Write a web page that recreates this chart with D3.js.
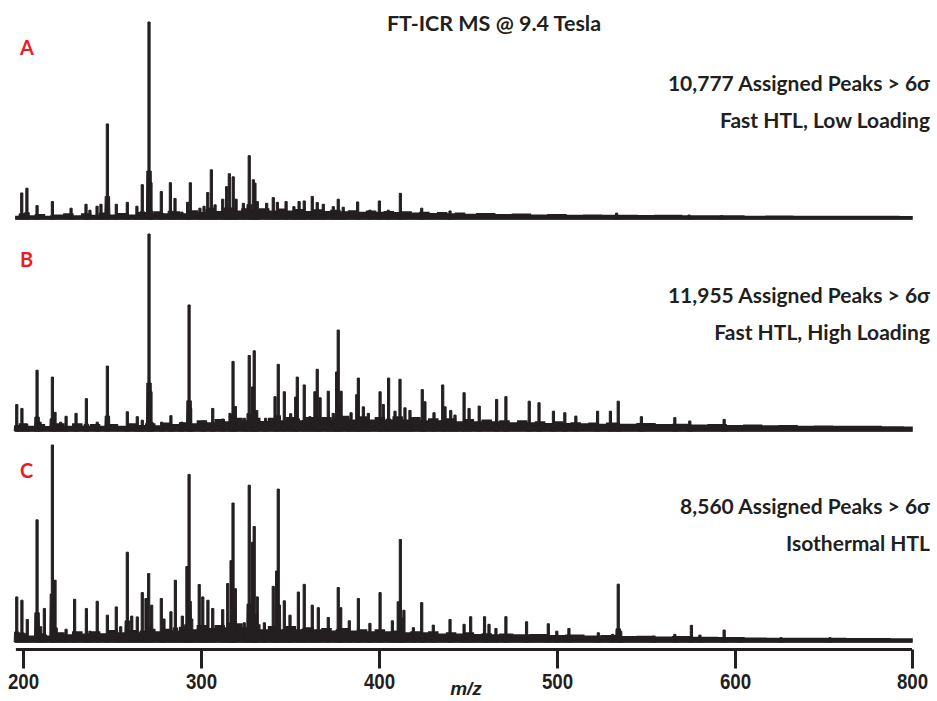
<!DOCTYPE html>
<html>
<head>
<meta charset="utf-8">
<script src="https://cdn.jsdelivr.net/npm/d3@7"></script>
<style>
  body { margin: 0; background: #fff; }
  svg { display: block; }
  .lbl { font-family: Lato, "Open Sans", sans-serif; font-weight: bold; fill: #231f20; }
  .axis_text { font-family: "Liberation Sans", Arial, sans-serif; font-weight: bold; fill: #231f20; }
</style>
</head>
<body>
<div id="chart"></div>
<script>
// axis ticks as printed on the figure
let tick_values = [200, 300, 400, 500, 600, 800];

// [m/z, relative intensity %]
let peaks_a = [
    [199.3, 12.8], [202.2, 15.2], [207.9, 6.3], [216.5, 8.4], [227, 5], [235.4, 7], [237.6, 4],
    [241.6, 6], [243.8, 7], [247.4, 48], [252.4, 7], [258.6, 8], [264, 6], [267, 17], [270.8, 100],
    [271.9, 18], [277.7, 13.5], [282.8, 18], [285.4, 10], [289.3, 3], [292.5, 8], [294, 18],
    [299.4, 5], [301.7, 6], [303.8, 13], [305.8, 24.6], [307.9, 6.7], [312.2, 9.6], [314.4, 16],
    [315.9, 22.6], [318.1, 21], [319.7, 9.6], [323.8, 7.5], [327.1, 31.8], [329.4, 19.5],
    [330.3, 17.8], [331.6, 8.4], [336.9, 7.5], [340.6, 10.4], [342.9, 8], [347.8, 8.4], [352.2, 5.8],
    [355.1, 8.4], [358, 8.7], [362.5, 11], [365.3, 7.9], [368.7, 7], [374.3, 5.8], [377.1, 9.6],
    [379.9, 5.5], [388, 8.2], [394.9, 4], [400.2, 8.7], [405.2, 4], [412, 12.6], [424, 5],
    [439.9, 3.6], [533.5, 2.5], [574.2, 1.5], [592.5, 1.2]
];
let grass_a = [
    [196, 0.8], [200, 1.8], [204, 1], [210, 1.6], [214, 0.8], [220, 1.4], [226, 2], [230, 1],
    [236, 2], [240, 1.2], [246, 2.4], [250, 1.4], [256, 2.2], [262, 1.4], [266, 2.6], [272, 1.8],
    [276, 3], [280, 2], [286, 3], [290, 2], [296, 3.6], [300, 2.6], [306, 4.2], [310, 3.2],
    [316, 5], [320, 3.4], [326, 4.6], [330, 3.8], [336, 4.6], [340, 3.4], [346, 4.4], [350, 3.4],
    [356, 4.2], [360, 3.2], [366, 4], [370, 3.2], [376, 3.8], [380, 3], [386, 3.6], [390, 2.8],
    [396, 3.4], [400, 2.8], [406, 3.2], [410, 2.6], [416, 3], [420, 2.4], [426, 2.8], [430, 2.2],
    [436, 2.6], [440, 2], [446, 2.4], [450, 1.8], [460, 2.1], [470, 1.6], [480, 1.9], [490, 1.4],
    [500, 1.6], [510, 1.3], [520, 1.4], [530, 1.2], [540, 1.3], [550, 1.1], [560, 1.2], [580, 1],
    [600, 1], [620, 0.8], [650, 0.9], [680, 0.7], [700, 0.8], [740, 0.7], [770, 0.7], [800, 0.6]
];

let peaks_b = [
    [196.5, 13], [199.4, 11], [202.1, 3], [207.9, 30.5], [209.6, 4], [216.5, 27], [218, 9],
    [221.2, 4], [224.2, 7], [229.8, 8.5], [235.6, 16], [241.7, 4], [247.4, 32.6], [258.6, 9.3],
    [264.2, 6.8], [267, 5], [270.8, 100], [271.9, 19.5], [277.9, 4], [283.1, 7.3], [289.2, 4],
    [293.3, 63.8], [294.2, 11], [301.3, 4.6], [306.6, 11], [312.2, 5.6], [316.3, 8.5], [318, 35],
    [319.3, 12], [324.3, 6], [327.1, 38], [329, 22], [329.9, 40.4], [331.3, 10], [336.3, 6],
    [341.6, 17], [343.4, 33.5], [346.8, 19.5], [350.4, 8.3], [353.2, 16.8], [354.1, 27], [358, 23],
    [361.2, 6.8], [364, 19.5], [365.3, 31], [366.9, 16.4], [371.5, 19.8], [374.3, 8.5],
    [376.2, 29.6], [377.1, 51], [378.7, 19.8], [382.4, 6.4], [384.3, 8.8], [387.5, 18],
    [388.4, 26.5], [391.2, 11.8], [394, 8.5], [400.6, 19.5], [402.4, 13], [405.4, 26.5], [409, 9.6],
    [411.8, 25.9], [414.6, 11.3], [417.4, 10], [424.3, 20.6], [425.8, 14.4], [430.9, 8.8],
    [435.8, 23], [437.1, 11.8], [440.3, 10], [442.7, 7.6], [447.8, 19], [450.6, 11], [456.3, 12.2],
    [466.1, 15.6], [471.3, 17], [484.4, 14.7], [489.9, 13.9], [498, 9.6], [504.4, 8.8],
    [510.6, 7.1], [522.8, 9.6], [530, 9.6], [534.4, 14.7], [547.4, 6.8], [566.2, 6.3],
    [574.6, 4.6], [593.9, 5.4]
];
let grass_b = [
    [196, 2], [200, 3], [204, 1.8], [210, 2.6], [214, 1.6], [220, 3], [226, 1.8], [230, 3],
    [236, 1.8], [240, 2.6], [246, 1.8], [250, 2.6], [256, 1.8], [262, 3], [266, 2.2], [272, 3],
    [276, 2], [280, 3.4], [286, 2.6], [290, 3.6], [296, 3], [300, 4.6], [306, 3.6], [310, 5.2],
    [316, 4], [320, 5.8], [326, 4.6], [330, 5.8], [336, 4.2], [340, 5.8], [346, 4.6], [350, 6.2],
    [356, 4.6], [360, 6.2], [366, 5], [370, 6.2], [376, 5], [380, 6.8], [386, 5], [390, 6.6],
    [396, 5], [400, 6.2], [406, 5], [410, 6.6], [416, 5], [420, 6.2], [426, 4.6], [430, 5.6],
    [436, 4.6], [440, 5.6], [446, 4], [450, 5.2], [456, 4], [460, 5], [466, 4], [470, 4.6],
    [476, 3.6], [480, 4.6], [486, 3.6], [490, 4], [496, 3.2], [500, 4], [506, 3.2], [510, 3.6],
    [516, 3], [520, 3.4], [526, 2.8], [530, 3.4], [540, 2.8], [550, 3.2], [560, 2.6], [570, 2.8],
    [580, 2.4], [590, 2.6], [600, 2.2], [620, 2.4], [640, 2], [660, 2.1], [680, 1.8], [700, 1.9],
    [720, 1.7], [750, 1.8], [780, 1.5], [800, 1.4]
];

let peaks_c = [
    [196.5, 22.5], [199.4, 20.8], [202.4, 11], [207.9, 61.8], [209.9, 7.3], [212, 16.6],
    [216.5, 100], [218, 31], [221.3, 4], [224.2, 6], [229, 21.3], [235.6, 16.6], [237.6, 5],
    [241.7, 20.3], [247.4, 13.2], [252.4, 17.4], [254.9, 7.3], [258.6, 45.3], [261.1, 12.7],
    [264.2, 12.3], [267, 24.7], [269.1, 21.7], [270.6, 34.4], [272.3, 18.3], [277.7, 21.7],
    [279.2, 11.2], [283.1, 14.9], [285.6, 31], [289.5, 12.7], [292.1, 38], [293.3, 85],
    [294.8, 11.2], [299, 28.8], [301, 22.5], [303.9, 20.8], [306.6, 16.6], [312.2, 16], [315, 29.3],
    [316.9, 41], [318, 70.4], [319.3, 26.7], [324.3, 9.3], [327.1, 79.5], [329, 50.4],
    [329.9, 58.4], [331.6, 22.5], [335.6, 9.3], [340.6, 27.9], [342.5, 35.7], [343.4, 77.5],
    [346.8, 20.5], [350, 13.2], [354.7, 25], [358, 28.9], [362.5, 18.3], [365.9, 17], [371.5, 12],
    [377.1, 27.3], [378.5, 17], [383.3, 10.3], [388.4, 21.7], [394.9, 9], [400.6, 24.7],
    [407.5, 10.3], [410.8, 20], [412, 51.8], [414, 15.7], [419.3, 6.8], [424, 19.6], [430.5, 8.1],
    [439.9, 11], [447.8, 8.5], [451.5, 12.4], [459.3, 12.4], [461.8, 8.5], [465.7, 6.4],
    [471.3, 12.4], [482.9, 9.8], [495.1, 8.8], [499.9, 5], [506.7, 6.4], [523.2, 4.2],
    [531.3, 3.4], [534.4, 29], [535.8, 5], [554.2, 2.5], [566.2, 3.4], [575.5, 8], [580.3, 3],
    [593.9, 5.6], [605.3, 1.7], [652, 1.7], [707.3, 1.7]
];
let grass_c = [
    [196, 2.6], [200, 3.6], [204, 2.4], [210, 3.6], [214, 2.4], [220, 4], [226, 3], [230, 4.6],
    [236, 3.4], [240, 4.6], [246, 3.6], [250, 5.2], [256, 4], [262, 5.2], [266, 4], [272, 5.8],
    [276, 4.6], [280, 5.8], [286, 5], [290, 6.8], [296, 5.6], [300, 7.8], [306, 6.2], [310, 7.8],
    [316, 6.6], [320, 8.6], [326, 6.6], [330, 8.2], [336, 5.6], [340, 7.2], [346, 5.6], [350, 7.2],
    [356, 5.6], [360, 6.6], [366, 5.6], [370, 6.2], [376, 5], [380, 6.2], [386, 5], [390, 5.6],
    [396, 4.6], [400, 5.6], [406, 4.6], [410, 5], [416, 4], [420, 4.6], [426, 4], [430, 4.6],
    [436, 3.4], [440, 4], [446, 3.4], [450, 4], [456, 3.2], [460, 3.6], [466, 3], [470, 3.4],
    [480, 3], [490, 3.2], [500, 2.6], [510, 2.9], [520, 2.4], [530, 2.6], [540, 2.1], [550, 2.3],
    [560, 1.9], [570, 2.1], [580, 1.7], [600, 1.6], [620, 1.4], [650, 1.3], [700, 1.2], [750, 1.1],
    [800, 1]
];

let panel_names = ["A", "B", "C"];
let peak_counts = ["10,777 Assigned Peaks > 6σ", "11,955 Assigned Peaks > 6σ", "8,560 Assigned Peaks > 6σ"];
let conditions = ["Fast HTL, Low Loading", "Fast HTL, High Loading", "Isothermal HTL"];

let ink = "#231f20";
let chart_width = 937;
let chart_height = 701;

let svg = d3.select("#chart")
    .append("svg")
    .attr("width", chart_width)
    .attr("height", chart_height);

// the printed axis is compressed between 600 and 800
let xScale = d3.scaleLinear()
    .domain([200, 600, 800])
    .range([23, 735, 912]);

let baselines = [218, 430, 641];
let panel_height = 196;

let panels = [
    {peaks: peaks_a, grass: grass_a},
    {peaks: peaks_b, grass: grass_b},
    {peaks: peaks_c, grass: grass_c}
];

panels.forEach(function(p, i) {
    let base = baselines[i];
    let yScale = d3.scaleLinear()
        .domain([0, 100])
        .range([base, base - panel_height]);

    let g = svg.append("g").attr("class", "panel");

    g.append("path")
        .datum(p.grass)
        .attr("fill", ink)
        .attr("stroke", ink)
        .attr("stroke-width", 1.6)
        .attr("stroke-linejoin", "miter")
        .attr("d", d3.area()
            .curve(d3.curveStep)
            .x(d => xScale(d[0]))
            .y0(base + 1)
            .y1(d => yScale(d[1])));

    g.append("line")
        .attr("x1", xScale(196))
        .attr("x2", xScale(800))
        .attr("y1", base)
        .attr("y2", base)
        .attr("stroke", ink)
        .attr("stroke-width", 3);

    // each peak drawn as a narrow spike with a slightly wider foot
    g.selectAll(".peak")
        .data(p.peaks)
        .enter()
        .append("path")
        .attr("class", "peak")
        .attr("fill", ink)
        .attr("stroke", ink)
        .attr("stroke-width", 1)
        .attr("d", function(d) {
            let x = xScale(d[0]);
            let top = yScale(d[1]);
            let foot = Math.min(base, top + 0.75 * (base - top) + 2);
            return "M" + (x - 2.6) + "," + (base + 1) +
                "L" + (x - 2.2) + "," + foot +
                "L" + (x - 1.1) + "," + foot +
                "L" + (x - 1.1) + "," + top +
                "L" + (x + 1.1) + "," + top +
                "L" + (x + 1.1) + "," + foot +
                "L" + (x + 2.2) + "," + foot +
                "L" + (x + 2.6) + "," + (base + 1) + "Z";
        });

    svg.append("text")
        .attr("x", 20)
        .attr("y", base - 163)
        .attr("font-family", "Lato, sans-serif")
        .attr("font-weight", "bold")
        .attr("font-size", "20px")
        .attr("fill", "#ed1c24")
        .text(panel_names[i]);

    svg.append("text")
        .attr("class", "lbl")
        .attr("x", 930)
        .attr("y", base - 127)
        .attr("text-anchor", "end")
        .attr("font-size", "21px")
        .text(peak_counts[i]);

    svg.append("text")
        .attr("class", "lbl")
        .attr("x", 930)
        .attr("y", base - 90)
        .attr("text-anchor", "end")
        .attr("font-size", "21px")
        .text(conditions[i]);
});

svg.append("text")
    .attr("class", "lbl")
    .attr("x", 494)
    .attr("y", 31)
    .attr("text-anchor", "middle")
    .attr("font-size", "21.5px")
    .text("FT-ICR MS @ 9.4 Tesla");

// bottom axis
let axis_y = 649.5;
let x_axis = svg.append("g")
    .attr("transform", "translate(0," + axis_y + ")")
    .call(d3.axisBottom(xScale)
        .tickValues(tick_values)
        .tickSize(19)
        .tickSizeOuter(0)
        .tickPadding(5)
        .tickFormat(d3.format("d")));

x_axis.select(".domain")
    .attr("d", "M" + xScale(196) + ",0H" + xScale(800))
    .attr("stroke", ink)
    .attr("stroke-width", 3);
x_axis.selectAll(".tick line")
    .attr("stroke", ink)
    .attr("stroke-width", 3);
// the figure uses a condensed face for the tick numbers
x_axis.selectAll(".tick text")
    .attr("class", "axis_text")
    .attr("font-size", "22px")
    .attr("dy", "0.71em")
    .attr("transform", "scale(0.85,1)");

svg.append("text")
    .attr("class", "axis_text")
    .attr("x", 466)
    .attr("y", 695)
    .attr("text-anchor", "middle")
    .attr("font-size", "19px")
    .attr("font-style", "italic")
    .text("m/z");
</script>
</body>
</html>
